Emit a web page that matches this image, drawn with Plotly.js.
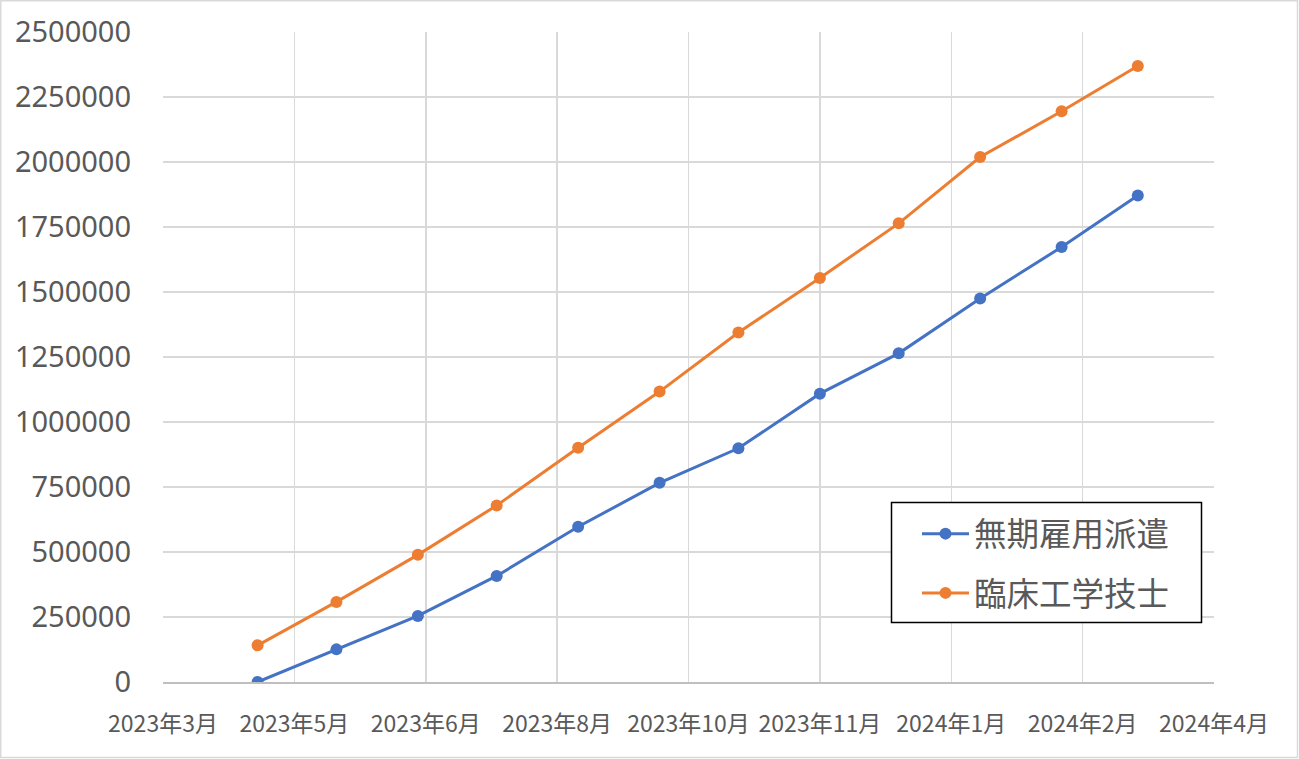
<!DOCTYPE html>
<html>
<head>
<meta charset="utf-8">
<script src="https://cdn.plot.ly/plotly-3.0.1.min.js"></script>
<style>
  html, body { margin: 0; padding: 0; background: #ffffff; }
  #chart { width: 1299px; height: 759px; }
</style>
</head>
<body>
<div id="chart"></div>
<script>
// ---- data ----
const dates = [
  '2023-04-20', '2023-05-20', '2023-06-20', '2023-07-20', '2023-08-20', '2023-09-20',
  '2023-10-20', '2023-11-20', '2023-12-20', '2024-01-20', '2024-02-20', '2024-03-20'
];
const seriesNames = ['無期雇用派遣', '臨床工学技士'];
const mukiValues = [0, 125500, 254000, 408000, 597000, 766000, 899000, 1109000, 1264000, 1475000, 1673000, 1871000];
const rinshoValues = [141000, 308000, 489000, 679000, 901000, 1117000, 1344000, 1554000, 1764000, 2019000, 2195000, 2369000];

const xTickDates = ['2023-03-15', '2023-05-04', '2023-06-23', '2023-08-12', '2023-10-01',
                    '2023-11-20', '2024-01-09', '2024-02-28', '2024-04-18'];
const xTickLabels = ['2023年3月', '2023年5月', '2023年6月', '2023年8月', '2023年10月',
                     '2023年11月', '2024年1月', '2024年2月', '2024年4月'];
const yTickValues = [0, 250000, 500000, 750000, 1000000, 1250000, 1500000, 1750000, 2000000, 2250000, 2500000];
const yTickLabels = ['0', '250000', '500000', '750000', '1000000', '1250000', '1500000', '1750000', '2000000', '2250000', '2500000'];

// ---- chart ----
const blue = '#4472C4';
const orange = '#ED7D31';
const textColor = '#595959';
const gridColor = '#d9d9d9';

const traces = [
  {
    x: dates, y: mukiValues, name: seriesNames[0], legendgroup: 'a',
    type: 'scatter', mode: 'lines+markers',
    line: { color: blue, width: 3 },
    marker: { color: blue, size: 12 }
  },
  {
    x: dates, y: rinshoValues, name: seriesNames[1], legendgroup: 'b',
    type: 'scatter', mode: 'lines+markers',
    line: { color: orange, width: 3 },
    marker: { color: orange, size: 12 }
  }
];

const L = 163, R = 85, T = 32, B = 77, W = 1299, H = 759;
const pw = W - L - R, ph = H - T - B;
const px2x = p => (p - L) / pw;
const py2y = p => (H - B - p) / ph;

const layout = {
  width: W, height: H,
  margin: { l: L, r: R, t: T, b: B, pad: 0 },
  paper_bgcolor: '#ffffff',
  plot_bgcolor: '#ffffff',
  showlegend: true,
  legend: {
    x: px2x(917), y: py2y(506), xanchor: 'left', yanchor: 'top',
    bgcolor: 'rgba(0,0,0,0)', borderwidth: 0,
    font: { family: 'Noto Sans CJK JP, sans-serif', size: 32.5, color: textColor },
    traceorder: 'grouped', tracegroupgap: 14, itemwidth: 47
  },
  xaxis: {
    type: 'date',
    range: ['2023-03-15', '2024-04-18'],
    tickmode: 'array', tickvals: xTickDates, ticktext: xTickLabels,
    showgrid: true, gridcolor: gridColor, gridwidth: 1.5,
    showline: true, linecolor: '#bfbfbf', linewidth: 1.5,
    zeroline: false, ticks: '', ticklabelstandoff: 21,
    tickfont: { family: 'Noto Sans CJK JP, sans-serif', size: 23, color: textColor },
    fixedrange: true
  },
  yaxis: {
    range: [0, 2500000],
    tickmode: 'array', tickvals: yTickValues, ticktext: yTickLabels,
    showgrid: true, gridcolor: gridColor, gridwidth: 1.5,
    showline: false, zeroline: false, ticks: '', ticklabelstandoff: 31,
    tickfont: { family: 'Noto Sans, sans-serif', size: 29, color: textColor },
    fixedrange: true
  },
  shapes: [
    {
      type: 'rect', xref: 'paper', yref: 'paper',
      x0: px2x(0.75), x1: px2x(1297.5), y0: py2y(757.5), y1: py2y(0.75),
      line: { color: gridColor, width: 1.5 }, fillcolor: 'rgba(0,0,0,0)', layer: 'below'
    },
    {
      type: 'rect', xref: 'paper', yref: 'paper',
      x0: px2x(891.5), x1: px2x(1201.5), y0: py2y(622.5), y1: py2y(502.5),
      line: { color: '#000000', width: 1.5 }, fillcolor: '#ffffff', layer: 'above'
    }
  ]
};

Plotly.newPlot('chart', traces, layout, { displayModeBar: false, staticPlot: true });
</script>
</body>
</html>
